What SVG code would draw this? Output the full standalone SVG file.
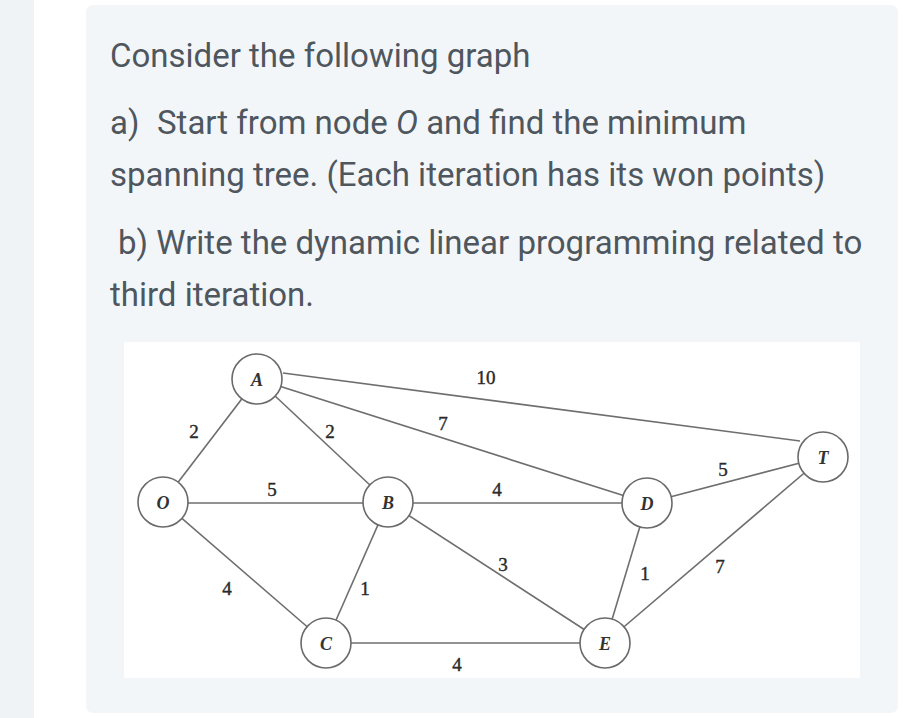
<svg xmlns="http://www.w3.org/2000/svg" width="919" height="718" viewBox="0 0 919 718">
<style>
.q{font-family:Roboto,"Noto Sans",sans-serif;font-size:33px;fill:#4f575e}
.e{stroke:#6e6e6e;stroke-width:1.6;fill:none}
.n{fill:#ffffff;stroke:#6a6a6a;stroke-width:1.6}
.nl{font-family:"Liberation Serif","DejaVu Serif",serif;font-style:italic;font-weight:bold;font-size:18px;fill:#333;text-anchor:middle;dominant-baseline:central}
.w{font-family:"Liberation Serif","DejaVu Serif",serif;font-size:19px;fill:#2a2a2a;stroke:#2a2a2a;stroke-width:0.4;text-anchor:middle;dominant-baseline:central}
</style>
<rect x="0" y="0" width="919" height="718" fill="#ffffff"/>
<rect x="0" y="0" width="34" height="718" fill="#f0f3f5"/>
<rect x="86" y="5" width="812" height="708" rx="7" fill="#f3f6f9"/>
<g id="question">
<text class="q" x="110" y="67">Consider the following graph</text>
<text class="q" x="110" y="134">a)<tspan x="157">Start from node </tspan><tspan font-style="italic">O</tspan> and find the minimum</text>
<text class="q" x="110" y="186">spanning tree. (Each iteration has its won points)</text>
<text class="q" x="118" y="254">b) Write the dynamic linear programming related to</text>
<text class="q" x="110" y="306">third iteration.</text>
</g>
<rect x="124" y="342" width="736" height="336" fill="#ffffff"/>
<g id="connectors">
<line class="e" x1="163" y1="502" x2="257" y2="379"/>
<line class="e" x1="163" y1="503" x2="388" y2="503"/>
<line class="e" x1="163" y1="502" x2="326" y2="643"/>
<line class="e" x1="257" y1="379" x2="388" y2="502"/>
<line class="e" x1="257" y1="379" x2="647" y2="503"/>
<line class="e" x1="283" y1="373" x2="800" y2="441"/>
<line class="e" x1="388" y1="503" x2="647" y2="503"/>
<line class="e" x1="388" y1="502" x2="326" y2="643"/>
<line class="e" x1="388" y1="502" x2="605" y2="643"/>
<line class="e" x1="326" y1="643" x2="605" y2="643"/>
<line class="e" x1="647" y1="503" x2="605" y2="643"/>
<line class="e" x1="647" y1="503" x2="823" y2="457"/>
<line class="e" x1="605" y1="643" x2="823" y2="457"/>
<text class="w" x="194" y="431">2</text>
<text class="w" x="330" y="431">2</text>
<text class="w" x="486" y="377">10</text>
<text class="w" x="443" y="423">7</text>
<text class="w" x="272" y="489">5</text>
<text class="w" x="497" y="489">4</text>
<text class="w" x="503" y="564">3</text>
<text class="w" x="227" y="588">4</text>
<text class="w" x="365" y="588">1</text>
<text class="w" x="457" y="664">4</text>
<text class="w" x="645" y="573">1</text>
<text class="w" x="720" y="566">7</text>
<text class="w" x="723" y="469">5</text>
</g>
<g id="node-O"><circle class="n" cx="163" cy="502" r="25"/><text class="nl" x="163" y="503">O</text></g>
<g id="node-A"><circle class="n" cx="257" cy="379" r="25"/><text class="nl" x="257" y="380">A</text></g>
<g id="node-B"><circle class="n" cx="388" cy="502" r="25"/><text class="nl" x="388" y="503">B</text></g>
<g id="node-C"><circle class="n" cx="326" cy="643" r="25"/><text class="nl" x="326" y="644">C</text></g>
<g id="node-D"><circle class="n" cx="647" cy="503" r="25"/><text class="nl" x="647" y="504">D</text></g>
<g id="node-E"><circle class="n" cx="605" cy="643" r="25"/><text class="nl" x="605" y="644">E</text></g>
<g id="node-T"><circle class="n" cx="823" cy="457" r="25"/><text class="nl" x="823" y="458">T</text></g>
</svg>
